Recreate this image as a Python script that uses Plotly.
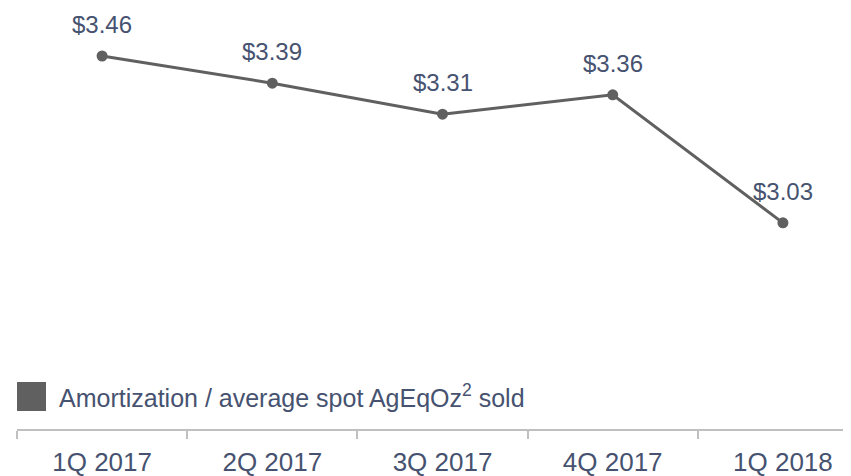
import plotly.graph_objects as go

quarters = ["1Q 2017", "2Q 2017", "3Q 2017", "4Q 2017", "1Q 2018"]
values = [3.46, 3.39, 3.31, 3.36, 3.03]
labels = ["$3.46", "$3.39", "$3.31", "$3.36", "$3.03"]
series_name = "Amortization / average spot AgEqOz<sup>2</sup> sold"

text_color = "#465270"
line_color = "#606060"
axis_color = "#c0c0c0"
font_family = "Liberation Sans, Arial, sans-serif"

# page has an 8px body margin; work in page coordinates and convert
OFF = 8
W, H = 851 - OFF, 476 - OFF
ml, mr, mt, mb = 17 - OFF, 0, 0, 476 - 429
pw, ph = W - ml - mr, H - mt - mb

def px_x(x):
    return (x - OFF - ml) / pw

def px_y(y):
    return (H - mb - (y - OFF)) / ph

fig = go.Figure()
fig.add_trace(go.Scatter(
    x=quarters, y=values, mode="lines+markers",
    line=dict(color=line_color, width=3),
    marker=dict(color=line_color, size=11),
    showlegend=False, cliponaxis=False,
))

for q, v, t in zip(quarters, values, labels):
    fig.add_annotation(x=q, y=v, text=t, showarrow=False,
                       xanchor="center", yanchor="bottom", yshift=16,
                       font=dict(family=font_family, size=24, color=text_color))

fig.add_shape(type="rect", xref="paper", yref="paper",
              x0=px_x(17), x1=px_x(46), y0=px_y(411), y1=px_y(382),
              fillcolor=line_color, line=dict(width=0))
fig.add_annotation(xref="paper", yref="paper", x=px_x(57), y=px_y(396),
                   xanchor="left", yanchor="middle", showarrow=False,
                   text=series_name,
                   font=dict(family=font_family, size=25, color=text_color))

fig.update_layout(
    width=W, height=H,
    margin=dict(l=ml, r=mr, t=mt, b=mb, pad=0),
    paper_bgcolor="white", plot_bgcolor="white",
    font=dict(family=font_family, color=text_color),
    xaxis=dict(
        type="category", range=[-0.5, 4.4],
        tickson="boundaries", ticks="outside", ticklen=8,
        tickcolor=axis_color, tickwidth=2,
        showline=True, linecolor=axis_color, linewidth=2,
        showgrid=False, zeroline=False, ticklabelstandoff=9,
        tickfont=dict(family=font_family, size=26, color=text_color),
    ),
    yaxis=dict(range=[2.4987, 3.5837], visible=False, showgrid=False, zeroline=False),
)

fig.write_html("out.html")
